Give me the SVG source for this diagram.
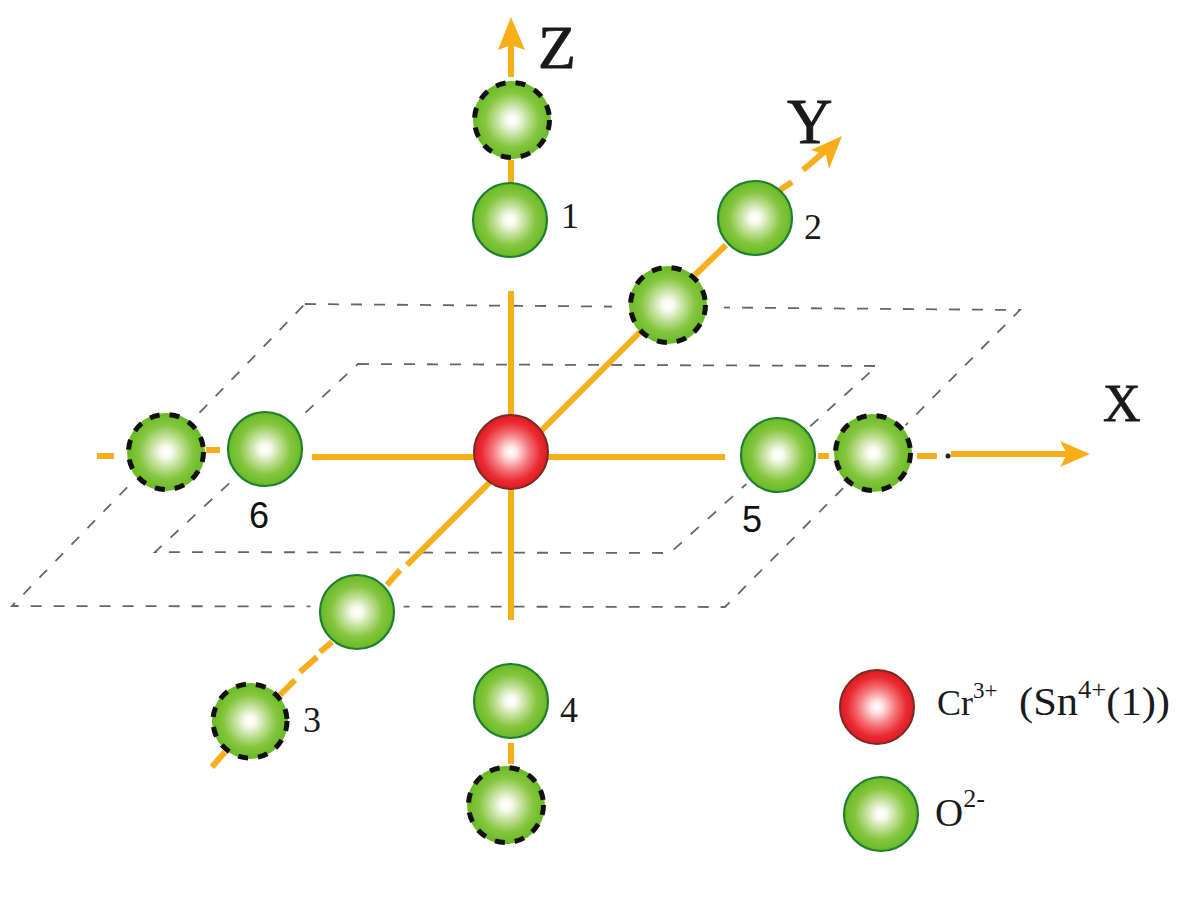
<svg xmlns="http://www.w3.org/2000/svg" width="1200" height="897" viewBox="0 0 1200 897">
<style>
.plane{fill:none;stroke:#666;stroke-width:1.8;stroke-dasharray:11 12}
.halo{fill:#fff}
.axis{fill:none;stroke:#f7ae1d;stroke-width:6}
.head{fill:#f9ae18}
.o{fill:url(#gGreen);stroke:#1f7f31;stroke-width:2.2}
.base{fill:url(#gGreen)}
.dash{fill:none;stroke:#111;stroke-width:5;stroke-dasharray:10 10}
.cr{fill:url(#gRed);stroke:#7a2a25;stroke-width:2}
text{font-family:"Liberation Serif","Times New Roman",serif;fill:#1a1a1a}
.n{font-size:36px}
.s{font-family:"Liberation Sans",Arial,sans-serif;font-size:36px;fill:#111}
.ax{stroke:#1a1a1a;stroke-width:.8}
</style>
<defs>
<radialGradient id="gGreen" cx="0.5" cy="0.5" r="0.5">
<stop offset="0" stop-color="#ffffff"/><stop offset="0.14" stop-color="#f8fbf0"/><stop offset="0.4" stop-color="#c2e09a"/><stop offset="0.7" stop-color="#84c63e"/><stop offset="1" stop-color="#69b925"/>
</radialGradient>
<radialGradient id="gRed" cx="0.5" cy="0.5" r="0.5">
<stop offset="0" stop-color="#ffffff"/><stop offset="0.16" stop-color="#fde4e4"/><stop offset="0.5" stop-color="#f5757a"/><stop offset="0.8" stop-color="#ea2a32"/><stop offset="1" stop-color="#dd1a20"/>
</radialGradient>
</defs>
<g id="connectors">
<g id="planes">
<path class="plane" d="M305 304L1020 310L725 607L12 606Z"/>
<path class="plane" d="M358 364L877 366L670 553L155 552Z"/>
<g id="plane-gaps">
<circle class="halo" cx="668" cy="305" r="56"/>
<circle class="halo" cx="357" cy="612" r="47"/>
<circle class="halo" cx="166" cy="452" r="43"/>
<circle class="halo" cx="265" cy="449" r="43"/>
<circle class="halo" cx="778" cy="455" r="43"/>
<circle class="halo" cx="873" cy="453" r="43"/>
<circle class="halo" cx="511" cy="452" r="40"/>
</g>
</g>
<g id="axis-z">
<path class="axis" d="M511 77V44M511 160V184M511 291V620M511 743V764"/>
<path class="head" d="M511 17L525 50L511 45L498 50Z"/>
</g>
<g id="axis-x">
<path class="axis" d="M97 456H114M206 450H220M312 457H725M818 456H829M917 456H937M951 454H1072"/>
<path class="head" d="M1090 454L1060 441L1067 454L1060 467Z"/>
<circle cx="948" cy="456" r="2.5" fill="#222"/>
</g>
<g id="axis-y">
<path class="axis" d="M212 767L225 752M280 695L295 680M300 672L317 657M320 652L332 642M387 585L400 570M407 565L640 332M695 275L726 245M780 190L792 182M803 170L830 147"/>
<path class="head" d="M842 136L811 150L826 155L829 169Z"/>
</g>
</g>
<g id="node-z-dashed"><circle class="base" cx="512" cy="120" r="39"/><circle class="dash" cx="512" cy="120" r="37.5"/></g>
<g id="node-1"><circle class="o" cx="510" cy="220" r="37"/><text class="n" x="561" y="228">1</text></g>
<g id="node-2"><circle class="o" cx="755" cy="218" r="37"/><text class="n" x="804" y="239">2</text></g>
<g id="node-y-dashed"><circle class="base" cx="668" cy="305" r="39"/><circle class="dash" cx="668" cy="305" r="37.5"/></g>
<g id="node-center"><circle class="cr" cx="511" cy="452" r="37"/></g>
<g id="node-5"><circle class="o" cx="778" cy="455" r="37"/><text class="s" x="742" y="532">5</text></g>
<g id="node-x-dashed-right"><circle class="base" cx="873" cy="453" r="39"/><circle class="dash" cx="873" cy="453" r="37.5"/></g>
<g id="node-6"><circle class="o" cx="265" cy="449" r="37"/><text class="s" x="249" y="528">6</text></g>
<g id="node-x-dashed-left"><circle class="base" cx="166" cy="452" r="39"/><circle class="dash" cx="166" cy="452" r="37.5"/></g>
<g id="node-y-front"><circle class="o" cx="357" cy="612" r="37"/></g>
<g id="node-3"><circle class="base" cx="250" cy="721" r="38"/><circle class="dash" cx="250" cy="721" r="37"/><text class="n" x="303" y="732">3</text></g>
<g id="node-4"><circle class="o" cx="511" cy="701" r="37"/><text class="n" x="560" y="722">4</text></g>
<g id="node-z-dashed-bottom"><circle class="base" cx="506" cy="805" r="39"/><circle class="dash" cx="506" cy="805" r="37.5"/></g>
<g id="labels">
<text class="ax" x="538" y="68" font-size="62">Z</text>
<text class="ax" x="787" y="143" font-size="63">Y</text>
<text class="ax" x="1103" y="421" font-size="52">X</text>
</g>
<g id="legend">
<circle class="cr" cx="877" cy="707" r="37"/>
<text x="937" y="715" font-size="36">Cr<tspan font-size="23" dy="-17">3+</tspan></text>
<text x="1019" y="715" font-size="40" textLength="151" lengthAdjust="spacingAndGlyphs">(Sn<tspan font-size="25" dy="-17">4+</tspan><tspan dy="17">(1))</tspan></text>
<circle class="o" cx="881" cy="814" r="37"/>
<text x="935" y="826" font-size="39">O<tspan font-size="26" dy="-19">2-</tspan></text>
</g>
</svg>
